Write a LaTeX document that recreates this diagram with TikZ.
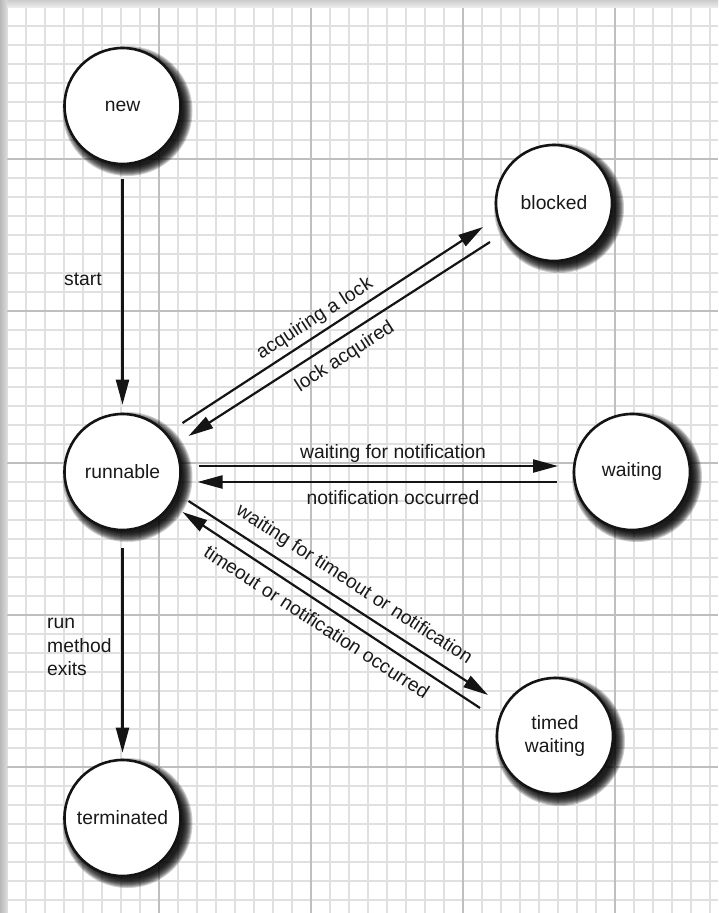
\documentclass[tikz,border=0pt]{standalone}
\usepackage{fontspec}
\setmainfont{Liberation Sans}
\usetikzlibrary{arrows.meta,calc}
\pgfdeclarelayer{gridlayer}
\pgfdeclarelayer{shadowlayer}
\pgfsetlayers{gridlayer,shadowlayer,main}
\newcommand\lblfont{\fontsize{19.3}{23.5}\selectfont}
\begin{document}
\begin{tikzpicture}[x=1pt,y=1pt,
  state/.style={circle,draw=black!92,line width=2.6pt,fill=white,minimum size=116pt,inner sep=0pt,align=center,font=\lblfont,text=black!90},
  shadowring/.style={fill=black,opacity=0.19},
  arr/.style={line width=2.2pt,draw=black!92,-{Triangle[length=25pt,width=13pt]}},
  lab/.style={font=\lblfont,text=black!90,inner sep=0pt},
  minorgrid/.style={draw=black!12,line width=1.4pt},
  majorgrid/.style={draw=black!25,line width=1.4pt}]
\useasboundingbox (0,0) rectangle (718,-913);
\begin{pgfonlayer}{gridlayer}
\fill[white] (0,0) rectangle (718,-913);
\foreach \i in {0,...,37} \draw[minorgrid] ({7+19*\i},-7) -- ({7+19*\i},-913);
\foreach \j in {1,...,47} \draw[minorgrid] (7,{-7-19*\j}) -- (718,{-7-19*\j});
\foreach \i in {1,...,4} \draw[majorgrid] ({7+152*\i},-7) -- ({7+152*\i},-913);
\foreach \j in {1,...,5} \draw[majorgrid] (7,{-7-152*\j}) -- (718,{-7-152*\j});
\shade[top color=black!20,bottom color=black!8] (0,0) rectangle (718,-7);
\shade[left color=black!28,right color=black!14] (0,0) rectangle (7,-913);
\end{pgfonlayer}
% states
\node[state] (new) at (122.5,-106) {new};
\node[state] (blocked) at (554,-203) {blocked};
\node[state] (runnable) at (122.5,-472) {runnable};
\node[state] (waiting) at (632,-472) {waiting};
\node[state] (timed) at (555,-736) {timed\\waiting};
\node[state] (terminated) at (122.5,-818) {terminated};
% shadows
\begin{pgfonlayer}{shadowlayer}
\foreach \n in {new,blocked,runnable,waiting,timed,terminated}
  \foreach \k in {0,...,9}
    \fill[shadowring] ($(\n)+(5,-5)$) circle[radius={(56+\k)*1pt}];
\end{pgfonlayer}
% transitions
\draw[arr] ($(new.south)+(0,-14)$) -- ($(runnable.north)+(0,8)$);
\draw[arr] ($(runnable.south)+(0,-17)$) -- ($(terminated.north)+(0,6)$);
\draw[arr] ($(runnable)+(60,49)$) -- ($(blocked)+(-71,-24)$);
\draw[arr] ($(blocked)+(-64,-39)$) -- ($(runnable)+(66,36)$);
\draw[arr] ($(runnable)+(76,6)$) -- ($(waiting)+(-74,6)$);
\draw[arr] ($(waiting)+(-75,-10)$) -- ($(runnable)+(75,-10)$);
\draw[arr] ($(runnable)+(66,-29)$) -- ($(timed)+(-67,41)$);
\draw[arr] ($(timed)+(-75,28)$) -- ($(runnable)+(60,-40)$);
% labels
\node[lab,anchor=west] (lstart) at (64,-279) {start};
\node[lab,anchor=west,align=left] (lrun) at (47,-647) {run\\method\\exits};
\node[lab,rotate=33] (lacq) at (315,-319) {acquiring a lock};
\node[lab,rotate=33] (llock) at (345,-357) {lock acquired};
\node[lab] (lwfn) at (393,-454) {waiting for notification};
\node[lab] (lnocc) at (393,-498) {notification occurred};
\node[lab,rotate=-33] (lwto) at (354,-585) {waiting for timeout or notification};
\node[lab,rotate=-33] (ltocc) at (317,-622) {timeout or notification occurred};
\end{tikzpicture}
\end{document}
